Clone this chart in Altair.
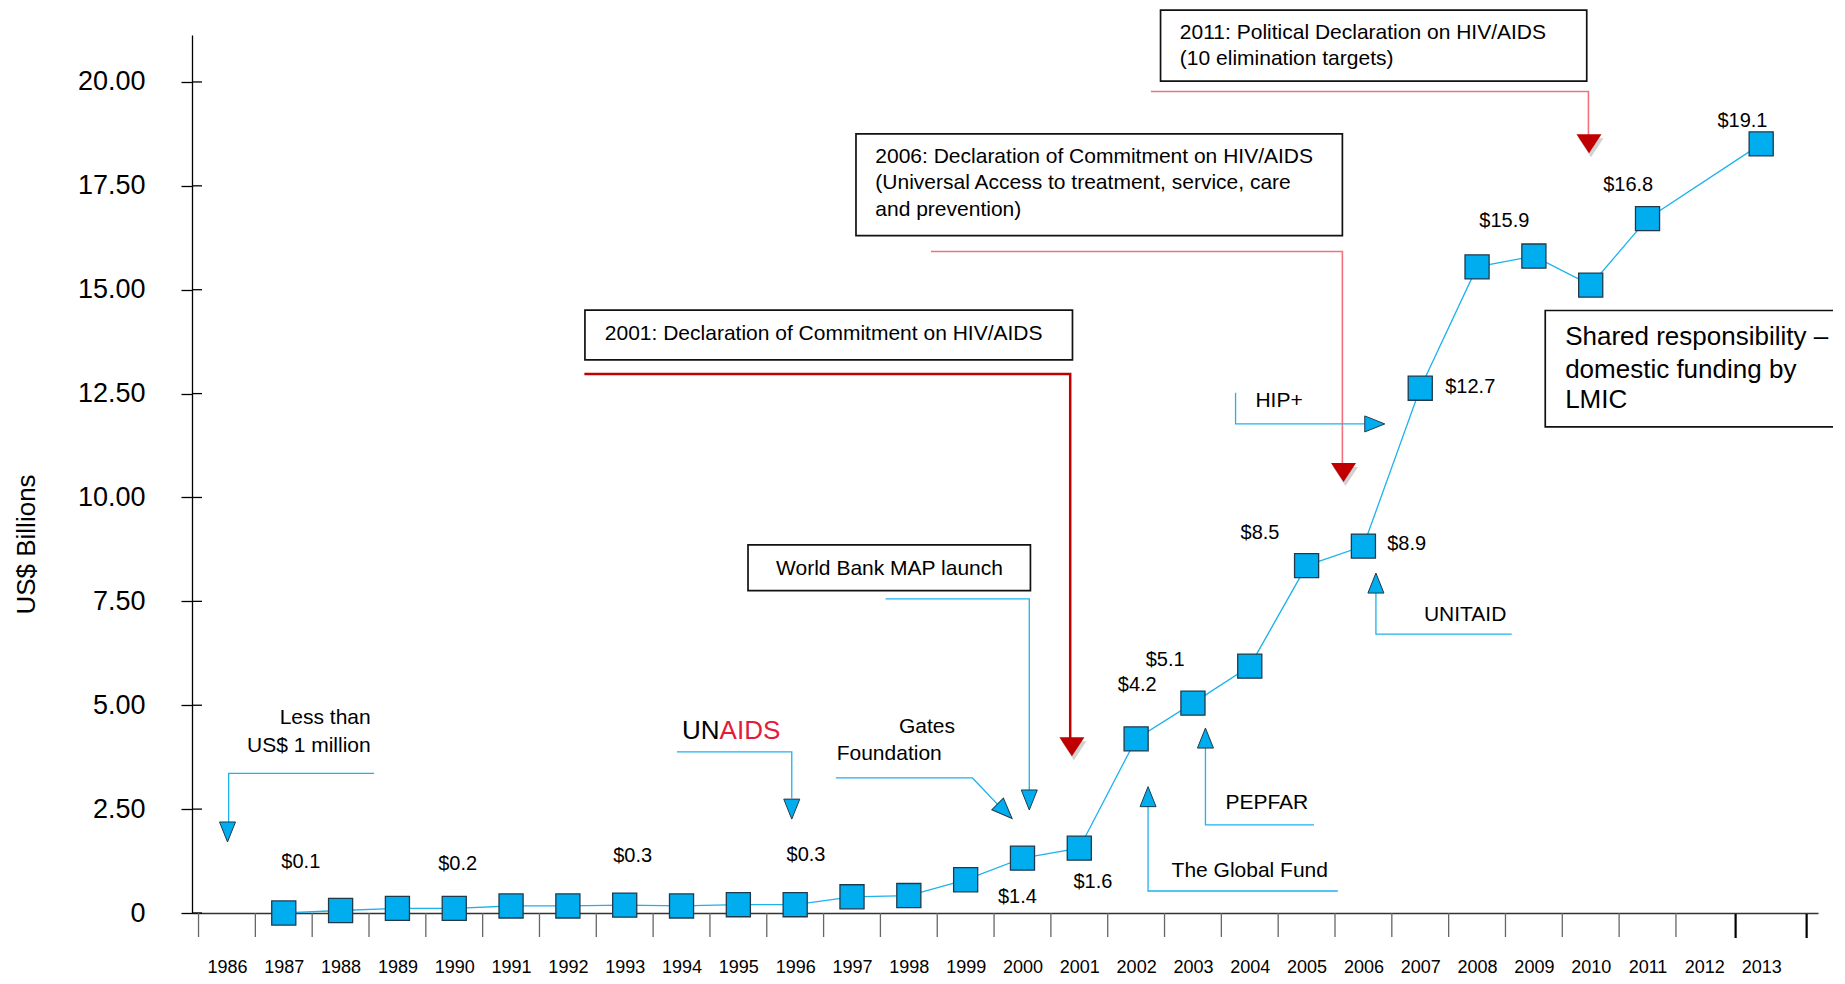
import altair as alt
import pandas as pd

FONT = "Liberation Sans"

# ---------------- data ----------------
years = [1987, 1988, 1989, 1990, 1991, 1992, 1993, 1994, 1995, 1996, 1997, 1998,
         1999, 2000, 2001, 2002, 2003, 2004, 2005, 2006, 2007, 2008, 2009, 2010,
         2011, 2013]
values = [0.0, 0.06, 0.11, 0.11, 0.17, 0.17, 0.19, 0.17, 0.2, 0.2, 0.39, 0.42,
          0.8, 1.32, 1.56, 4.19, 5.05, 5.94, 8.36, 8.83, 12.63, 15.55, 15.81, 15.11,
          16.71, 18.51]

year_labels = list(range(1986, 2014))
y_ticks = [0, 2.5, 5, 7.5, 10, 12.5, 15, 17.5, 20]
x_boundaries = [1985.5 + i for i in range(27)]
x_end_ticks = [2012.55, 2013.8]

value_label_text = ["$0.1", "$0.2", "$0.3", "$0.3", "$1.4", "$1.6", "$4.2", "$5.1",
                    "$8.5", "$8.9", "$12.7", "$15.9", "$16.8", "$19.1"]
value_label_x = [1987.30, 1990.06, 1993.14, 1996.19, 1999.91, 2001.24, 2002.02,
                 2002.51, 2004.18, 2006.76, 2007.88, 2008.48, 2010.66, 2012.67]
value_label_y = [1.22, 1.18, 1.36, 1.40, 0.39, 0.75, 5.49, 6.09, 9.14, 8.88,
                 12.65, 16.65, 17.53, 19.06]

# boxes: [x, x2, y, y2]
box_x = [2002.43, 1997.07, 1992.30, 1995.17, 2009.20]
box_x2 = [2009.93, 2005.63, 2000.88, 2000.14, 2014.9]
box_y = [21.73, 18.75, 14.51, 8.86, 14.50]
box_y2 = [20.02, 16.30, 13.31, 7.76, 11.70]

# connector paths
red_2001_x = [1992.29, 2000.84, 2000.84]
red_2001_y = [12.97, 12.97, 4.2]
pink_2006_x = [1998.39, 2005.63, 2005.63]
pink_2006_y = [15.92, 15.92, 10.74]
pink_2011_x = [2002.26, 2009.96, 2009.96]
pink_2011_y = [19.77, 19.77, 18.72]
less_x = [1988.59, 1986.03, 1986.03]
less_y = [3.36, 3.36, 2.19]
unaids_x = [1993.92, 1995.94, 1995.94]
unaids_y = [3.88, 3.88, 2.76]
gates_x = [1996.715, 1999.12, 1999.60]
gates_y = [3.25, 3.25, 2.56]
wb_x = [1997.59, 2000.12, 2000.12]
wb_y = [7.56, 7.56, 2.94]
gf_x = [2005.55, 2002.21, 2002.21]
gf_y = [0.53, 0.53, 2.58]
pepfar_x = [2005.13, 2003.22, 2003.22]
pepfar_y = [2.12, 2.12, 3.97]
unitaid_x = [2008.61, 2006.22, 2006.22]
unitaid_y = [6.71, 6.71, 7.70]
hip_x = [2003.75, 2003.75, 2006.02]
hip_y = [12.52, 11.77, 11.77]

# arrow heads
head_down_x = [1986.01, 1995.94, 2000.12]
head_down_y = [1.95, 2.50, 2.72]
head_up_x = [2002.21, 2003.22, 2006.22]
head_up_y = [2.80, 4.21, 7.94]
head_right_x = [2006.20]
head_right_y = [11.77]
head_diag_x = [1999.69]
head_diag_y = [2.45]
head_red_x = [2000.87, 2005.65, 2009.97]
head_red_y = [4.0, 10.60, 18.51]

# annotation texts
left_text = ["2011: Political Declaration on HIV/AIDS", "(10 elimination targets)",
             "2006: Declaration of Commitment on HIV/AIDS",
             "(Universal Access to treatment, service, care", "and prevention)",
             "2001: Declaration of Commitment on HIV/AIDS", "HIP+", "Foundation",
             "AIDS", "Shared responsibility \u2013", "domestic funding by", "LMIC"]
left_x = [2002.77, 2002.77, 1997.41, 1997.41, 1997.41, 1992.65, 2004.10, 1996.73,
          1994.67, 2009.55, 2009.55, 2009.55]
left_y = [21.17, 20.55, 18.20, 17.56, 16.93, 13.94, 12.31, 3.82, 4.39, 13.86, 13.07, 12.35]
left_size = [21, 21, 21, 21, 21, 21, 21, 21, 26, 26, 26, 26]
left_color = ["black"] * 8 + ["#E31B3B"] + ["black"] * 3

right_text = ["Less than", "US$ 1 million", "UN"]
right_x = [1988.53, 1988.53, 1994.67]
right_y = [4.69, 4.03, 4.39]
right_size = [21, 21, 26]

center_text = ["World Bank MAP launch", "Gates", "The Global Fund", "PEPFAR", "UNITAID"]
center_x = [1997.66, 1998.32, 2004.0, 2004.30, 2007.79]
center_y = [8.27, 4.48, 1.02, 2.64, 7.17]

# ---------------- chart ----------------
W, H = 1626, 878
xs = alt.Scale(domain=[1985.385, 2014.0], nice=False, zero=False)
ys = alt.Scale(domain=[0, 21.13], nice=False, zero=False)
BLUE = "#1CB2EE"
SQ = "#00AEEF"

x_axis = alt.Axis(
    values=year_labels, format="d", ticks=False, labelFontSize=18, labelFont=FONT,
    labelColor="black", labelPadding=54, labelBaseline="middle",
    domainColor="#333333", domainWidth=1.5, title=None, grid=False,
    labelFlush=False, labelOverlap=False)
y_axis = alt.Axis(
    values=y_ticks, labelExpr="datum.value == 0 ? '0' : format(datum.value, '.2f')",
    tickSize=11, tickColor="black", tickWidth=1.3, labelFontSize=27, labelFont=FONT,
    labelColor="black", labelPadding=36, domainColor="black", domainWidth=1.3,
    title="US$ Billions", titleFont=FONT, titleFontSize=26, titleFontWeight="normal",
    titleColor="black", titleX=-166, titleY=509, titleAngle=270, titleAlign="center",
    titleBaseline="middle", grid=False, labelFlush=False, labelOverlap=False)


def X(f):
    return alt.X(f, scale=xs, axis=x_axis)


def Y(f):
    return alt.Y(f, scale=ys, axis=y_axis)


series = pd.DataFrame({"year": years, "value": values})

data_line = alt.Chart(series).mark_line(color=BLUE, strokeWidth=1.3).encode(
    x=X("year:Q"), y=Y("value:Q"))

squares = alt.Chart(series).mark_square(size=580, fill=SQ, stroke="#1F3A4D",
                                        strokeWidth=1.3, opacity=1).encode(
    x=X("year:Q"), y=Y("value:Q"))

# ticks
yt = pd.DataFrame({"v": y_ticks})
y_in = alt.Chart(yt).mark_rule(color="black", strokeWidth=1.3).encode(
    y=Y("v:Q"), x=alt.value(0), x2=alt.value(10))
xt = pd.DataFrame({"t": x_boundaries})
x_tk = alt.Chart(xt).mark_rule(color="#666666", strokeWidth=1.3).encode(
    x=X("t:Q"), y=alt.value(H), y2=alt.value(H + 24))
xe = pd.DataFrame({"t": x_end_ticks})
x_tk_end = alt.Chart(xe).mark_rule(color="black", strokeWidth=2.2).encode(
    x=X("t:Q"), y=alt.value(H + 1), y2=alt.value(H + 25))

# boxes
boxes_df = pd.DataFrame({"x": box_x, "x2": box_x2, "y": box_y, "y2": box_y2})
boxes = alt.Chart(boxes_df).mark_rect(fill="white", stroke="#111111", strokeWidth=1.7).encode(
    x=X("x:Q"), x2="x2:Q", y=Y("y:Q"), y2="y2:Q")

# connectors
paths = [
    ("r2001", red_2001_x, red_2001_y, "#C00000", 2.5),
    ("p2006", pink_2006_x, pink_2006_y, "#F4707C", 1.6),
    ("p2011", pink_2011_x, pink_2011_y, "#F4707C", 1.6),
    ("less", less_x, less_y, BLUE, 1.3),
    ("unaids", unaids_x, unaids_y, BLUE, 1.3),
    ("gates", gates_x, gates_y, BLUE, 1.3),
    ("wb", wb_x, wb_y, BLUE, 1.3),
    ("gf", gf_x, gf_y, BLUE, 1.3),
    ("pepfar", pepfar_x, pepfar_y, BLUE, 1.3),
    ("unitaid", unitaid_x, unitaid_y, BLUE, 1.3),
    ("hip", hip_x, hip_y, BLUE, 1.3),
]
rows = []
for pid, px, py, col, w in paths:
    for i, (a, b) in enumerate(zip(px, py)):
        rows.append({"id": pid, "ord": i, "x": a, "y": b, "col": col, "w": w})
conn_df = pd.DataFrame(rows)
connectors = alt.Chart(conn_df).mark_line(strokeCap="butt").encode(
    x=X("x:Q"), y=Y("y:Q"), detail="id:N", order="ord:Q",
    color=alt.Color("col:N", scale=None),
    strokeWidth=alt.StrokeWidth("w:Q", scale=None))

# heads
DOWN = "M-0.8,-1L0.8,-1L0,1Z"
UP = "M-0.8,1L0.8,1L0,-1Z"
RIGHT = "M-1,-0.8L-1,0.8L1,0Z"
RED_DOWN = "M-1,-0.76L1,-0.76L0,0.76Z"


def heads(hx, hy, shape, size, fill, stroke, angle=0):
    d = pd.DataFrame({"x": hx, "y": hy})
    return alt.Chart(d).mark_point(shape=shape, size=size, filled=True, fill=fill,
                                   stroke=stroke, strokeWidth=1, opacity=1,
                                   angle=angle).encode(x=X("x:Q"), y=Y("y:Q"))


h_down = heads(head_down_x, head_down_y, DOWN, 400, SQ, "#1F3A4D")
h_up = heads(head_up_x, head_up_y, UP, 400, SQ, "#1F3A4D")
h_right = heads(head_right_x, head_right_y, RIGHT, 400, SQ, "#1F3A4D")
h_diag = heads(head_diag_x, head_diag_y, RIGHT, 420, SQ, "#1F3A4D", angle=45)
red_df = pd.DataFrame({"x": head_red_x, "y": head_red_y})
h_red_shadow = alt.Chart(red_df).mark_point(shape=RED_DOWN, size=625, filled=True,
                                            fill="#000000", opacity=0.18, strokeWidth=0,
                                            xOffset=2, yOffset=4).encode(
    x=X("x:Q"), y=Y("y:Q"))
h_red = alt.Chart(red_df).mark_point(shape=RED_DOWN, size=625, filled=True,
                                     fill="#C00000", opacity=1, strokeWidth=0).encode(
    x=X("x:Q"), y=Y("y:Q"))

# texts
vl_df = pd.DataFrame({"x": value_label_x, "y": value_label_y, "t": value_label_text})
val_labels = alt.Chart(vl_df).mark_text(font=FONT, fontSize=20, color="black",
                                        align="center", baseline="middle").encode(
    x=X("x:Q"), y=Y("y:Q"), text="t:N")

left_df = pd.DataFrame({"x": left_x, "y": left_y, "t": left_text, "s": left_size,
                        "c": left_color})
left_t = alt.Chart(left_df).mark_text(font=FONT, align="left", baseline="middle").encode(
    x=X("x:Q"), y=Y("y:Q"), text="t:N", size=alt.Size("s:Q", scale=None),
    color=alt.Color("c:N", scale=None))

right_df = pd.DataFrame({"x": right_x, "y": right_y, "t": right_text, "s": right_size})
right_t = alt.Chart(right_df).mark_text(font=FONT, align="right", baseline="middle",
                                        color="black").encode(
    x=X("x:Q"), y=Y("y:Q"), text="t:N", size=alt.Size("s:Q", scale=None))

center_df = pd.DataFrame({"x": center_x, "y": center_y, "t": center_text})
center_t = alt.Chart(center_df).mark_text(font=FONT, fontSize=21, align="center",
                                          baseline="middle", color="black").encode(
    x=X("x:Q"), y=Y("y:Q"), text="t:N")

chart = alt.layer(
    data_line, boxes, connectors, h_red_shadow, h_red, h_down, h_up, h_right, h_diag,
    squares, y_in, x_tk, x_tk_end, val_labels, left_t, right_t, center_t
).properties(
    width=W, height=H,
    background="white",
    autosize=alt.AutoSizeParams(type="none"),
    padding={"left": 184, "top": 27, "right": 15, "bottom": 63},
).configure_view(strokeWidth=0)

chart.save("out.html", embed_options={"renderer": "svg", "actions": False})
